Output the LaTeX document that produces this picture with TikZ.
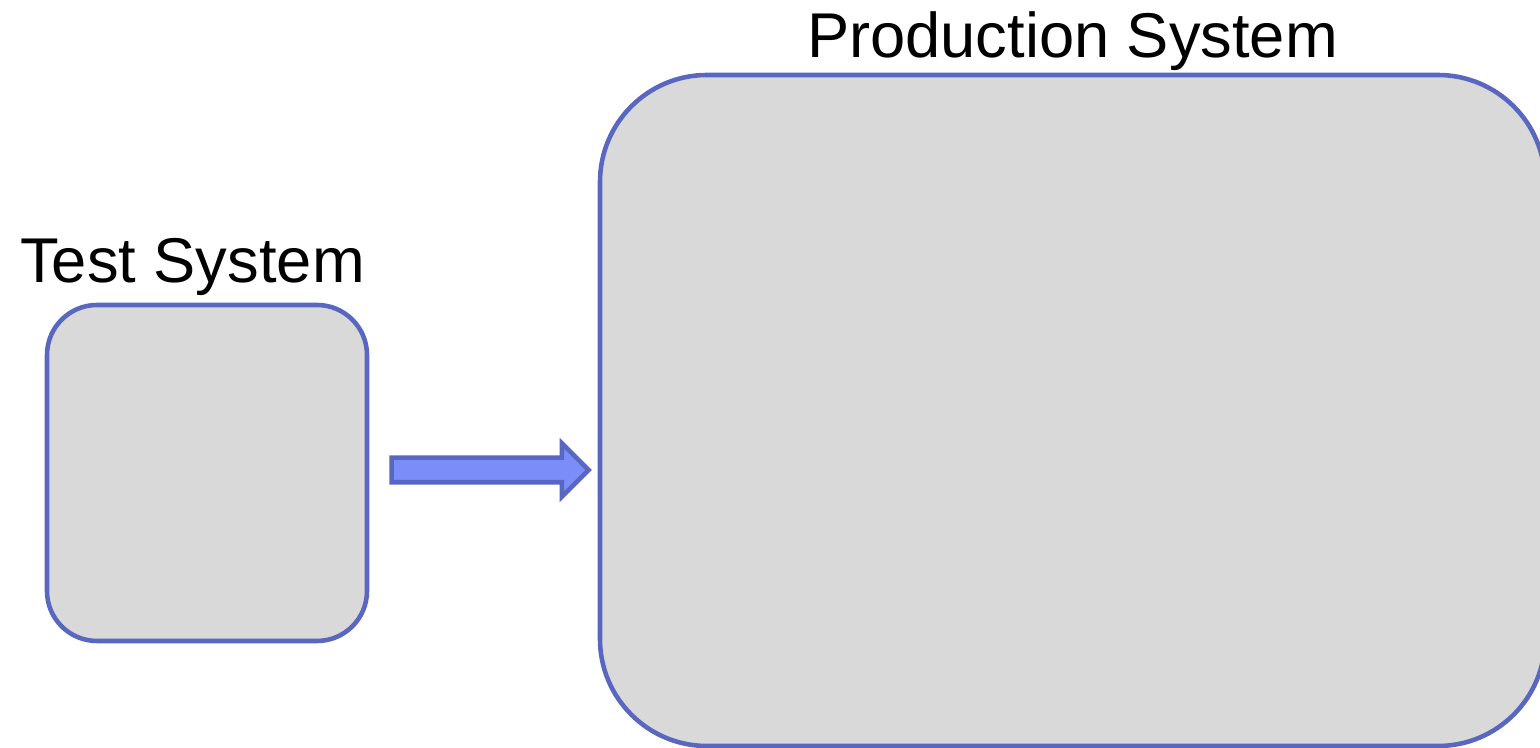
\documentclass[tikz,border=0pt]{standalone}
\usepackage{fontspec}
\setmainfont{Liberation Sans}
\usetikzlibrary{positioning,shapes.arrows}
\definecolor{border}{HTML}{5A67C0}
\definecolor{boxgray}{HTML}{D9D9D9}
\definecolor{arrowblue}{HTML}{7B8DF9}
\begin{document}
\begin{tikzpicture}[every node/.style={font=\fontsize{18}{22}\selectfont}]
\useasboundingbox (0,0) rectangle (15.4,7.48);
\node[draw=border, line width=1.3pt, rounded corners=0.5cm, fill=boxgray, minimum width=3.2cm, minimum height=3.36cm] (test) at (2.07,2.75) {};
\node[draw=border, line width=1.3pt, rounded corners=1.07cm, fill=boxgray, minimum width=9.45cm, minimum height=6.71cm] (prod) at (10.725,3.375) {};
\node[anchor=base] (testlbl) at ([xshift=-0.145cm, yshift=0.2cm]test.north) {Test System};
\node[anchor=base] (prodlbl) at ([xshift=0.0cm, yshift=0.15cm]prod.north) {Production System};
\node[single arrow, draw=border, line width=1.3pt, fill=arrowblue, inner sep=0pt, text height=0.2cm, text depth=0pt, single arrow head extend=0.145cm, minimum height=1.97cm, anchor=west, right=0.2cm of test.east, yshift=0.03cm] (push) {};
\end{tikzpicture}
\end{document}
